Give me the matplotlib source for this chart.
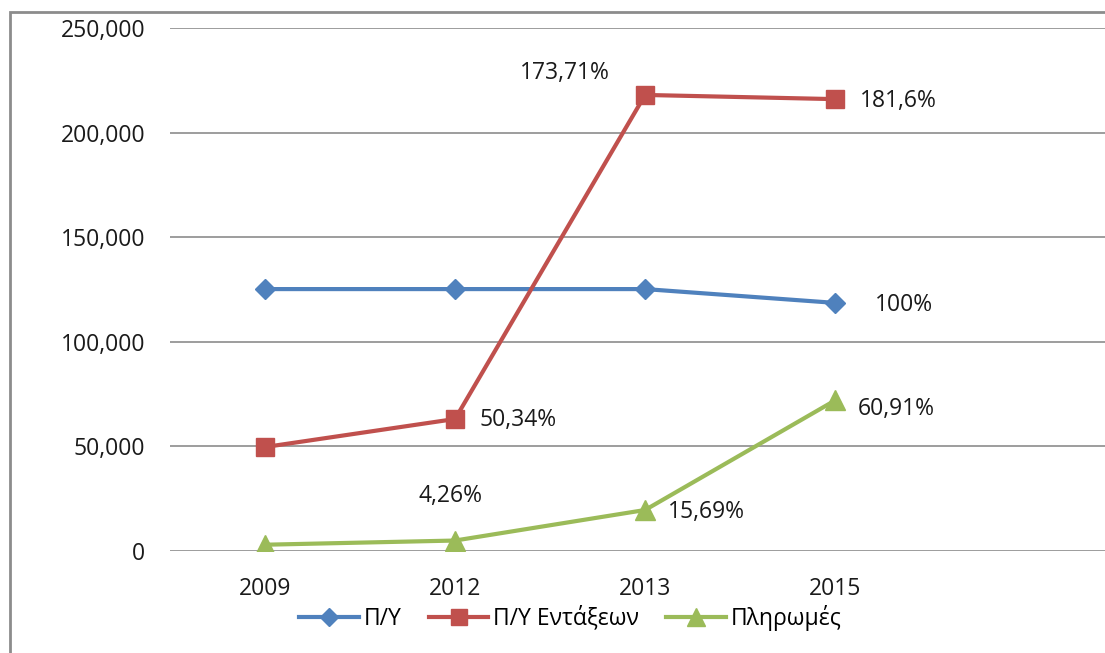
import matplotlib.pyplot as plt
from matplotlib.patches import Rectangle
from matplotlib.ticker import FuncFormatter
from matplotlib.lines import Line2D

plt.rcParams['font.family'] = ['Open Sans', 'DejaVu Sans']

# ---------------- data ----------------
years = ["2009", "2012", "2013", "2015"]
py = [125200, 125200, 125200, 118600]
py_entaxeon = [49700, 63100, 218000, 216000]
pliromes = [3000, 5000, 19600, 72000]

series_names = ["Π/Υ", "Π/Υ Εντάξεων", "Πληρωμές"]

# percentage labels: (series index, point index, text)
pct_labels = [
    (0, 3, "100%"),
    (1, 1, "50,34%"),
    (1, 2, "173,71%"),
    (1, 3, "181,6%"),
    (2, 1, "4,26%"),
    (2, 2, "15,69%"),
    (2, 3, "60,91%"),
]
# label placement (offset pixels, alignment)
label_pos = {
    (0, 3): (40, -2, "left"),
    (1, 1): (24, -1, "left"),
    (1, 2): (-80, 22, "center"),
    (1, 3): (25, -2, "left"),
    (2, 1): (-5, 45, "center"),
    (2, 2): (23, -2, "left"),
    (2, 3): (23, -9, "left"),
}

colors = ["#4F81BD", "#C0504D", "#9BBB59"]
markers = ["D", "s", "^"]
msizes = [10, 13, 14]
fs = 16.5

# ---------------- plot ----------------
fig = plt.figure(figsize=(11.05, 6.53), dpi=100)
ax = fig.add_axes([170 / 1105, 1 - 551 / 653, 1 - 170 / 1105, (551 - 28) / 653])

# outer chart frame
fig.patches.append(Rectangle((10 / 1105, -0.1), 1.2, (653 - 12) / 653 + 0.1,
                             transform=fig.transFigure, fill=False,
                             edgecolor="#8c8c8c", linewidth=2))

x = list(range(len(years)))
all_series = [py, py_entaxeon, pliromes]
for vals, c, m, ms, name in zip(all_series, colors, markers, msizes, series_names):
    ax.plot(x, vals, color=c, linewidth=3, marker=m, markersize=ms,
            markeredgecolor=c, label=name, zorder=3)

for s, i, txt in pct_labels:
    dx, dy, ha = label_pos[(s, i)]
    ax.annotate(txt, (x[i], all_series[s][i]), xytext=(dx, dy),
                textcoords="offset pixels", ha=ha, va="center",
                fontsize=fs, color="#1a1a1a")

ax.set_xlim(-0.5, 4.42)
ax.set_ylim(0, 250000)
ax.set_yticks(range(0, 250001, 50000))
ax.yaxis.set_major_formatter(FuncFormatter(lambda v, p: f"{int(v):,}"))
ax.set_xticks(x)
ax.set_xticklabels(years)
ax.tick_params(axis="both", length=0, labelsize=fs, colors="#1a1a1a")
ax.tick_params(axis="y", pad=18)
ax.tick_params(axis="x", pad=19)
ax.grid(axis="y", color="#8c8c8c", linewidth=1.2)
ax.set_axisbelow(True)
for sp in ax.spines.values():
    sp.set_visible(False)

handles = [Line2D([], [], color=c, linewidth=3, marker=m, markersize=ms - 1)
           for c, m, ms in zip(colors, markers, msizes)]
fig.legend(handles, series_names, loc="center", bbox_to_anchor=(0.516, 0.054),
           ncol=3, frameon=False, fontsize=fs, handlelength=2.6,
           columnspacing=1.2, handletextpad=0.2)

fig.savefig("out.png", dpi=100)
